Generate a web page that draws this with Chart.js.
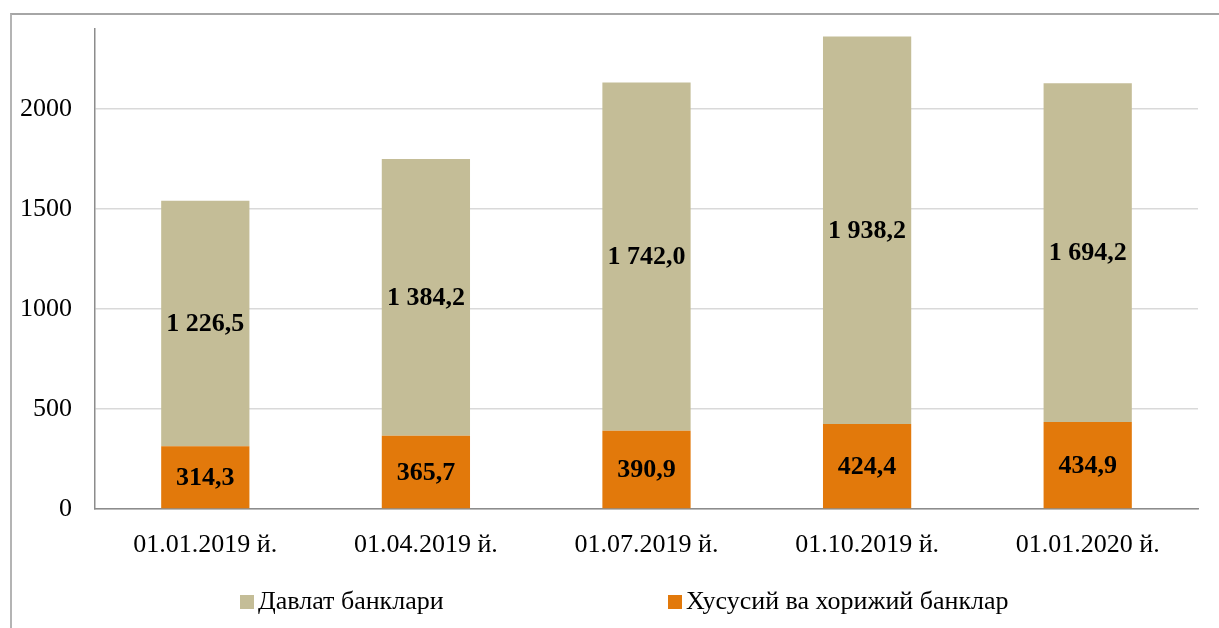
<!DOCTYPE html>
<html lang="uz">
<head>
    <meta charset="UTF-8">
    <title>Банклар</title>
    <script src="https://cdn.jsdelivr.net/npm/chart.js"></script>
    <style>
        html, body { margin: 0; padding: 0; background: #fff; }
        #frame {
            position: absolute; left: 10px; top: 13px; width: 1230px; height: 640px;
            border-left: 2px solid #b4b4b4; border-top: 2px solid #a6a6a6;
        }
        #wrap { position: absolute; left: 0; top: 0; width: 1219px; height: 628px; }
        #legend {
            position: absolute; left: 0; top: 585px; width: 1219px;
            font-family: 'Liberation Serif', 'Times New Roman', serif; font-size: 26px; color: #000;
        }
        .item { position: absolute; top: 0; white-space: nowrap; line-height: 32px; }
        .box { display: inline-block; width: 14px; height: 14px; margin-right: 4px; vertical-align: 0px; }
    </style>
</head>
<body>
    <div id="frame"></div>
    <div id="wrap"><canvas id="bankChart" width="1219" height="628"></canvas></div>
    <div id="legend"></div>

    <script>
// Data
const categories = ["01.01.2019 й.", "01.04.2019 й.", "01.07.2019 й.", "01.10.2019 й.", "01.01.2020 й."];
const stateBanks = [1226.5, 1384.2, 1742.0, 1938.2, 1694.2];
const privateBanks = [314.3, 365.7, 390.9, 424.4, 434.9];
const seriesNames = ["Давлат банклари", "Хусусий ва хорижий банклар"];
const seriesColors = ["#c4bd97", "#e2790b"];
const yTicks = [0, 500, 1000, 1500, 2000];

const FONT = "'Liberation Serif', 'Times New Roman', serif";

// 1226.5 -> "1 226,5"
function fmt(v) {
  const parts = v.toFixed(1).split('.');
  const whole = parts[0].replace(/\B(?=(\d{3})+(?!\d))/g, ' ');
  return whole + ',' + parts[1];
}

// Draws the value in the middle of every bar
const barLabels = {
  id: 'barLabels',
  afterDatasetsDraw(chart) {
    const ctx = chart.ctx;
    ctx.save();
    ctx.font = 'bold 26px ' + FONT;
    ctx.fillStyle = '#000';
    ctx.textAlign = 'center';
    ctx.textBaseline = 'middle';
    chart.data.datasets.forEach((ds, i) => {
      chart.getDatasetMeta(i).data.forEach((bar, j) => {
        const p = bar.getCenterPoint();
        ctx.fillText(fmt(ds.data[j]), p.x, p.y + 1);
      });
    });
    ctx.restore();
  }
};

const ctx = document.getElementById('bankChart').getContext('2d');
new Chart(ctx, {
  type: 'bar',
  data: {
    labels: categories,
    datasets: [
      { label: seriesNames[1], data: privateBanks, backgroundColor: seriesColors[1] },
      { label: seriesNames[0], data: stateBanks, backgroundColor: seriesColors[0] }
    ]
  },
  options: {
    responsive: false,
    animation: false,
    layout: { padding: { left: 0, right: 21, top: 29, bottom: 69 } },
    datasets: { bar: { categoryPercentage: 1, barPercentage: 0.4 } },
    plugins: { legend: { display: false }, tooltip: { enabled: false } },
    scales: {
      x: {
        stacked: true,
        grid: { display: false, drawTicks: false },
        border: { color: '#8c8c8c', width: 1.5 },
        ticks: { font: { family: FONT, size: 26 }, color: '#000', padding: 21, maxRotation: 0 },
        afterFit(s) { s.height = 50; s.paddingLeft = 0; s.paddingRight = 0; }
      },
      y: {
        stacked: true,
        min: 0,
        max: 2400,
        grid: { color: '#d9d9d9', lineWidth: 1.5, drawTicks: false },
        border: { color: '#8c8c8c', width: 1.5 },
        afterBuildTicks(s) { s.ticks = yTicks.map(v => ({ value: v })); },
        ticks: {
          font: { family: FONT, size: 26 }, color: '#000', padding: 23,
          callback: v => String(v)
        },
        afterFit(s) { s.width = 95; s.paddingTop = 0; s.paddingBottom = 0; }
      }
    }
  },
  plugins: [barLabels]
});

// Legend below the chart
const legend = document.getElementById('legend');
const legendLeft = [240, 668];
seriesNames.forEach((name, i) => {
  const el = document.createElement('div');
  el.className = 'item';
  el.style.left = legendLeft[i] + 'px';
  el.innerHTML = '<span class="box" style="background:' + seriesColors[i] + '"></span>' + name;
  legend.appendChild(el);
});
    </script>
</body>
</html>
